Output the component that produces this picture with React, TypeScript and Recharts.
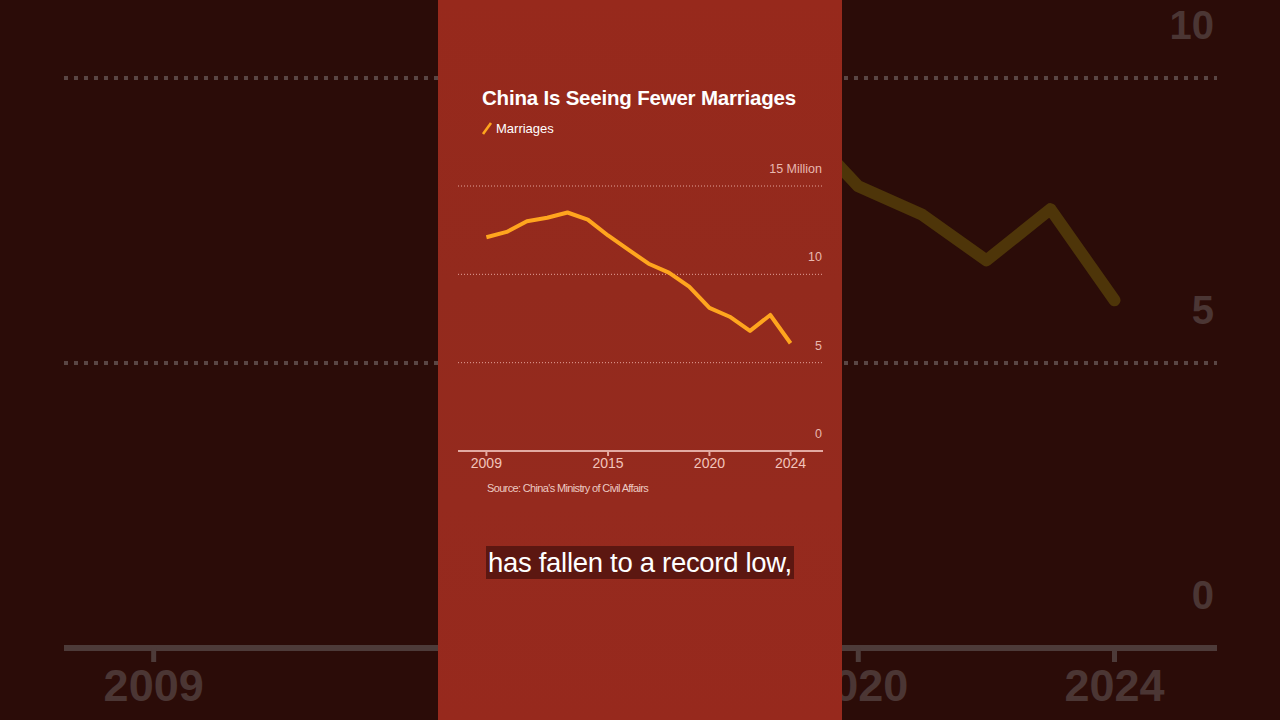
import { LineChart, Line, XAxis, YAxis, CartesianGrid } from 'recharts';

// China marriages, millions
const years = [2009, 2010, 2011, 2012, 2013, 2014, 2015, 2016, 2017, 2018, 2019, 2020, 2021, 2022, 2023, 2024];
const marriages = [12.1, 12.4, 13.0, 13.2, 13.5, 13.1, 12.2, 11.4, 10.6, 10.1, 9.3, 8.1, 7.6, 6.8, 7.7, 6.1];
const xTicks = [2009, 2015, 2020, 2024];
const yTicks = [0, 5, 10, 15];
const xDomain = [2007.6, 2025.6];

const data = years.map((year, i) => ({ year, value: marriages[i] }));

const FONT = '"Liberation Sans", Arial, Helvetica, sans-serif';

const renderMainYTick = (props: any) => {
  const { x, y, payload } = props;
  const label = payload.value === 15 ? '15 Million' : String(payload.value);
  return (
    <text x={x + 1} y={y - 13} textAnchor="end" fill="#e8b8af" fontSize={12.5} fontFamily={FONT}>
      {label}
    </text>
  );
};

const renderBgYTick = (props: any) => {
  const { x, y, payload } = props;
  if (payload.value === 15) return <g />;
  return (
    <text x={x - 1} y={y - 39} textAnchor="end" fill="#4b3634" fontSize={40} fontWeight={700} fontFamily={FONT}>
      {payload.value}
    </text>
  );
};

export default function App() {
  return (
    <div
      style={{
        position: 'fixed',
        left: 0,
        top: 0,
        width: 1280,
        height: 720,
        overflow: 'hidden',
        background: '#2b0c08',
        fontFamily: FONT,
      }}
    >
      {/* darkened zoom of the chart behind the panel */}
      <div style={{ position: 'absolute', left: 64, top: -230 }}>
        <LineChart width={1153} height={958} data={data} margin={{ top: 23, right: 0, left: 0, bottom: 0 }}>
          <CartesianGrid vertical={false} stroke="#5a4644" strokeWidth={4} strokeDasharray="4 6" />
          <XAxis
            dataKey="year"
            type="number"
            domain={xDomain}
            ticks={xTicks}
            allowDataOverflow
            height={80}
            axisLine={{ stroke: '#4d3b39', strokeWidth: 6 }}
            tickLine={{ stroke: '#4d3b39', strokeWidth: 5 }}
            tickSize={14}
            tickMargin={7}
            tick={{ fill: '#4b3634', fontSize: 45, fontWeight: 700, fontFamily: FONT }}
          />
          <YAxis
            orientation="right"
            mirror
            width={1}
            domain={[0, 15]}
            ticks={yTicks}
            interval={0}
            axisLine={false}
            tickLine={false}
            tickSize={0}
            tick={renderBgYTick}
          />
          <Line
            dataKey="value"
            stroke="#4e3509"
            strokeWidth={12}
            strokeLinecap="round"
            strokeLinejoin="round"
            dot={false}
            isAnimationActive={false}
          />
        </LineChart>
      </div>

      {/* main panel */}
      <div
        style={{
          position: 'absolute',
          left: 438,
          top: 0,
          width: 404,
          height: 720,
          background: 'linear-gradient(180deg, #97291c 0%, #932a1d 40%, #952a1e 70%, #97291d 100%)',
        }}
      >
        <div
          style={{
            position: 'absolute',
            left: 44,
            top: 86,
            color: '#ffffff',
            fontSize: 20.5,
            fontWeight: 700,
            letterSpacing: -0.2,
            whiteSpace: 'nowrap',
          }}
        >
          China Is Seeing Fewer Marriages
        </div>
        <div style={{ position: 'absolute', left: 43, top: 121, display: 'flex', alignItems: 'center' }}>
          <svg width={13} height={15}>
            <line x1={2} y1={13} x2={10} y2={2} stroke="#ffa51e" strokeWidth={2.6} />
          </svg>
          <span style={{ color: '#ffffff', fontSize: 13, marginLeft: 2 }}>Marriages</span>
        </div>

        <div style={{ position: 'absolute', left: 20, top: 150 }}>
          <LineChart width={365} height={330} data={data} margin={{ top: 36, right: 0, left: 0, bottom: 0 }}>
            <CartesianGrid vertical={false} stroke="#e3a299" strokeWidth={1} strokeDasharray="1 2" />
            <XAxis
              dataKey="year"
              type="number"
              domain={xDomain}
              ticks={xTicks}
              allowDataOverflow
              height={29}
              axisLine={{ stroke: '#e3aaa2', strokeWidth: 2 }}
              tickLine={{ stroke: '#e3aaa2', strokeWidth: 2 }}
              tickSize={5}
              tickMargin={2}
              tick={{ fill: '#f2c4bb', fontSize: 14, fontFamily: FONT }}
            />
            <YAxis
              orientation="right"
              mirror
              width={1}
              domain={[0, 15]}
              ticks={yTicks}
              interval={0}
              axisLine={false}
              tickLine={false}
              tickSize={0}
              tick={renderMainYTick}
            />
            <Line
              dataKey="value"
              stroke="#ffa51e"
              strokeWidth={4}
              strokeLinecap="butt"
              strokeLinejoin="round"
              dot={false}
              isAnimationActive={false}
            />
          </LineChart>
        </div>

        <div
          style={{
            position: 'absolute',
            left: 49,
            top: 482,
            color: '#ecc9c2',
            fontSize: 11,
            letterSpacing: -0.65,
            whiteSpace: 'nowrap',
          }}
        >
          Source: China's Ministry of Civil Affairs
        </div>

        <div
          style={{
            position: 'absolute',
            left: 48,
            top: 546,
            height: 33,
            padding: '0 2px',
            background: '#5c1711',
            color: '#ffffff',
            fontSize: 27.5,
            lineHeight: '33px',
            letterSpacing: -0.3,
            whiteSpace: 'nowrap',
          }}
        >
          has fallen to a record low,
        </div>
      </div>
    </div>
  );
}
